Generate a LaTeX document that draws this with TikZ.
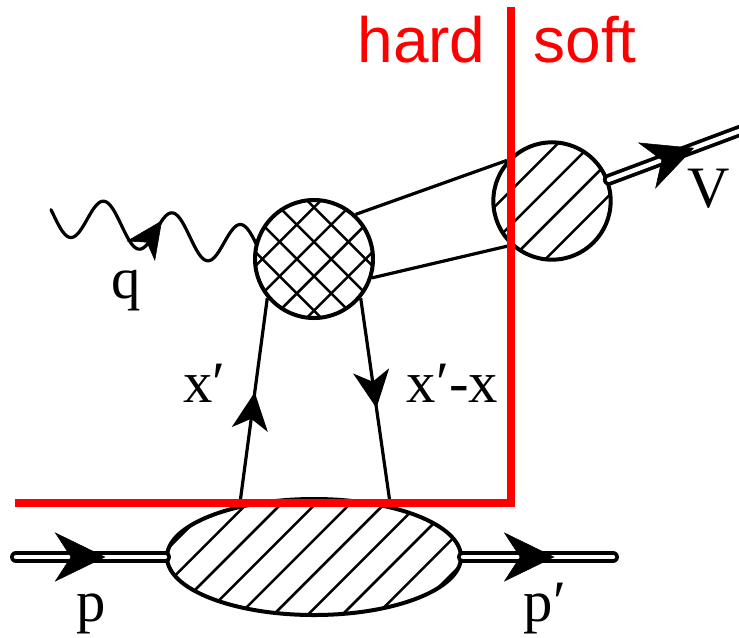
\documentclass[tikz,border=0pt]{standalone}
\usepackage{fontspec}
\newfontfamily\lblfont{Liberation Serif}
\newfontfamily\hsfont{Liberation Sans}
\usetikzlibrary{shapes.geometric,arrows.meta,decorations.markings}
\definecolor{hsred}{RGB}{255,0,0}
\tikzset{
  ftip/.tip={Stealth[length=28pt,width=27pt,inset=8pt]},
  dtip/.tip={Stealth[length=38pt,width=37pt,inset=12pt]},
  qtip/.tip={Stealth[length=28pt,width=26pt,inset=8pt]},
}
\begin{document}
\begin{tikzpicture}[x=0.75pt,y=-0.75pt,
  blob/.style={draw, line width=3pt, fill=white, inner sep=0pt},
  hatchln/.style={line width=1.9pt},
  hatchne/.style={path picture={\foreach \k in {-9,...,8}{\draw[hatchln, shift={(path picture bounding box.center)}] ({\k*25.8pt+12.9pt-150pt},-150pt) -- ++(300pt,300pt);}}},
  hatchx/.style={path picture={\foreach \k in {-6,...,5}{\draw[hatchln, shift={(path picture bounding box.center)}] ({\k*25.8pt+12.9pt-150pt},-150pt) -- ++(300pt,300pt); \draw[hatchln, shift={(path picture bounding box.center)}] ({\k*25.8pt+12.9pt+150pt},-150pt) -- ++(-300pt,300pt);}}},
  fermion/.style={line width=2.4pt},
  dline/.style={double, double distance=3.3pt, line width=2.8pt, line cap=round},
  redline/.style={draw=hsred, line width=6pt, line cap=butt, line join=miter},
  lbl/.style={font=\lblfont\fontsize{44}{50}\selectfont, inner sep=0pt, anchor=base},
  hslbl/.style={font=\hsfont\fontsize{48}{54}\selectfont, text=hsred, inner sep=0pt, anchor=base},
]
\useasboundingbox (0,0) rectangle (739,637);

% photon
\draw[line width=2.4pt, line cap=round] plot[domain=51:262, samples=160, smooth] (\x, {219.5+0.17*(\x-88)+21*cos(5.2555*(\x-70))});
\coordinate (qa) at (161,221.94);
\coordinate (qb) at (162,220.5);
\draw[line width=0.4pt, -{qtip}] (qa) -- (qb);

% blobs
\node[blob, ellipse, minimum width=220.5pt, minimum height=87pt, hatchne] (ell) at (314,557) {};
\node[blob, circle, minimum size=88.5pt, hatchx] (c1) at (314,259) {};
\node[blob, circle, minimum size=88pt, hatchne] (c2) at (552,201) {};

% cone lines
\draw[fermion] (c1.47) -- (c2.138);
\draw[fermion] (c1.-18) -- (c2.227);

% fermion lines
\draw[fermion, postaction={decorate}, decoration={markings, mark=at position 0.545 with {\arrow{ftip}}}] (ell.145) -- (c1.220);
\draw[fermion, postaction={decorate}, decoration={markings, mark=at position 0.53 with {\arrow{ftip}}}] (c1.-40) -- (ell.34);

% double lines
\coordinate (pin) at (16,557);
\coordinate (pout) at (613,557);
\coordinate (vout) at (742,130);
\draw[dline] (pin) -- (ell.west);
\draw[dline] (ell.east) -- (pout);
\draw[dline] (c2) -- (vout);
\path[postaction={decorate}, decoration={markings, mark=at position 0.6 with {\arrow{dtip}}}] (pin) -- (ell.west);
\path[postaction={decorate}, decoration={markings, mark=at position 0.61 with {\arrow{dtip}}}] (ell.east) -- (pout);
\path[postaction={decorate}, decoration={markings, mark=at position 0.64 with {\arrow{dtip}}}] (c2) -- (vout);

% red cut
\coordinate (ra) at (15,503);
\coordinate (rb) at (511,503);
\coordinate (rc) at (511,7);
\draw[redline] (ra) -- (rb) -- (rc);

% labels
\node[hslbl] (lhard) at (421.5,62) {hard};
\node[hslbl] (lsoft) at (585,62) {soft};
\node[lbl] (lq) at (126,298) {q};
\node[lbl] (lv) at (709,207) {V};
\node[lbl] (lx1) at (204.5,402) {x′};
\node[lbl] (lx2) at (452.5,402) {x′-x};
\node[lbl] (lp) at (91.5,621) {p};
\node[lbl] (lp2) at (545,621) {p′};
\end{tikzpicture}
\end{document}
